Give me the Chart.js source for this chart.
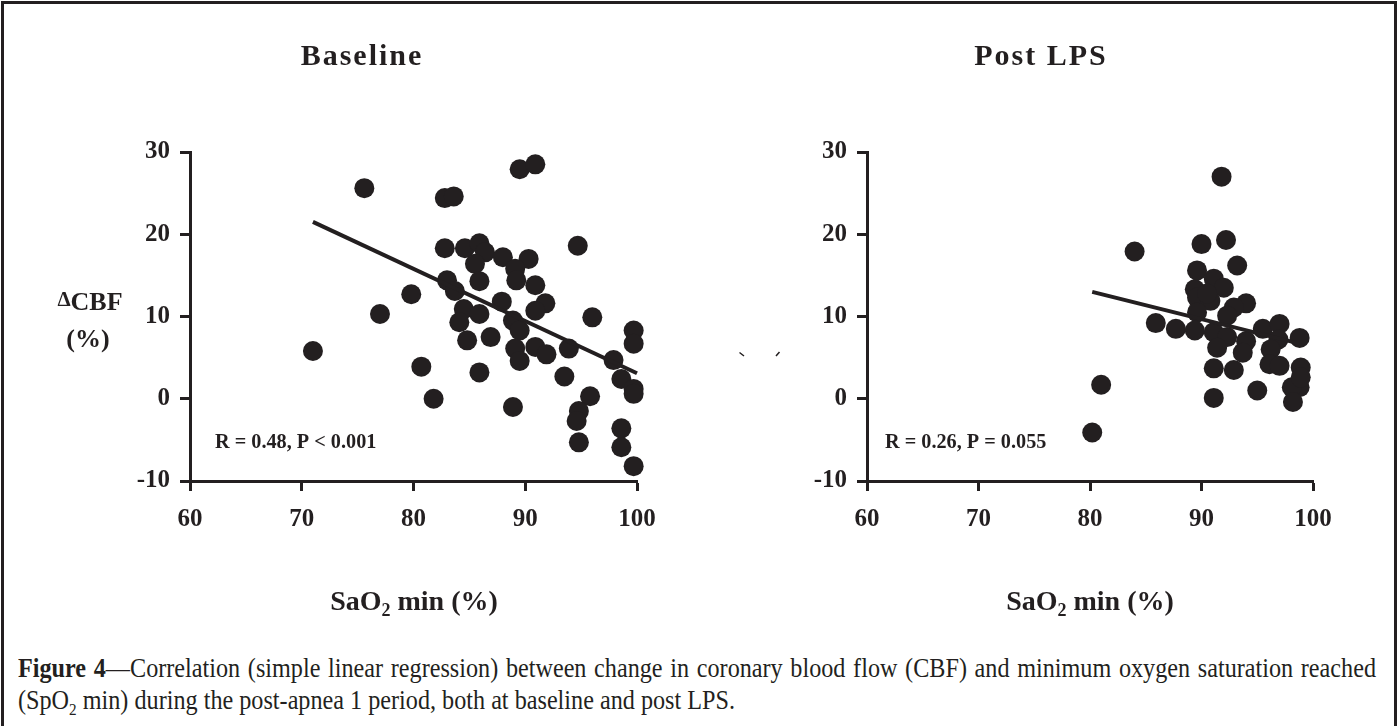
<!DOCTYPE html>
<html lang="en">
<head>
<meta charset="UTF-8">
<title>Figure 4</title>
<script src="https://cdn.jsdelivr.net/npm/chart.js@4.4.1/dist/chart.umd.min.js"></script>
<style>
  body { margin: 0; background: #fff; overflow: hidden; }
  #frame { position: absolute; left: 1px; top: 1px; width: 1396px; height: 740px; box-sizing: border-box; border: 3px solid #231f20; }
  canvas { position: absolute; top: 0; }
  #c1 { left: 0; }
  #c2 { left: 700px; }
  .cap { position: absolute; left: 18px; font-family: "Liberation Serif", serif; font-size: 27px; line-height: 27px; color: #231f20; transform-origin: 0 0; }
  #cap2 { white-space: nowrap; }
  #cap1 { text-align: justify; text-align-last: justify; }
</style>
</head>
<body>
<div id="frame"></div>
<canvas id="c1" width="700" height="640"></canvas>
<canvas id="c2" width="698" height="640"></canvas>
<div class="cap" id="cap1" style="top:655px"><b>Figure 4</b>—Correlation (simple linear regression) between change in coronary blood flow (CBF) and minimum oxygen saturation reached</div>
<div class="cap" id="cap2" style="top:687px">(SpO<sub style="font-size:17px;line-height:0">2</sub> min) during the post-apnea 1 period, both at baseline and post LPS.</div>
<script>
const INK = '#231f20';

// baseline: SaO2 min (%) vs delta CBF (%)
const baseX = [71.0, 75.6, 77.0, 79.8, 80.7, 81.8, 82.8, 83.6, 82.8, 83.0, 83.7, 84.6, 85.9, 86.4, 85.5, 88.0, 90.3, 89.5, 90.9, 94.7,
               89.1, 89.2, 90.9, 85.9, 87.9, 91.8, 90.9, 84.5, 85.9, 84.1, 88.9, 89.5, 96.0, 99.7, 84.8, 86.9, 89.1, 89.5, 90.9, 91.9,
               93.9, 99.7, 97.9, 98.6, 99.7, 99.7, 85.9, 93.5, 95.8, 94.8, 94.6, 94.8, 88.9, 98.6, 98.6, 99.7];
const baseY = [5.8, 25.6, 10.3, 12.7, 3.9, 0.0, 24.4, 24.6, 18.3, 14.4, 13.1, 18.3, 18.9, 17.8, 16.4, 17.2, 17.0, 27.9, 28.5, 18.6,
               15.8, 14.4, 13.8, 14.3, 11.8, 11.6, 10.7, 10.9, 10.3, 9.3, 9.5, 8.3, 9.9, 8.3, 7.1, 7.5, 6.1, 4.6, 6.3, 5.4,
               6.1, 6.7, 4.7, 2.4, 1.2, 0.6, 3.2, 2.7, 0.3, -1.5, -2.7, -5.3, -1.0, -3.6, -5.9, -8.2];
const baseFitX = [71.0, 100.0];
const baseFitY = [21.5, 3.1];

// post LPS
const lpsX = [91.8, 90.0, 92.2, 84.0, 93.2, 89.6, 91.1, 92.0, 89.4, 89.6, 90.8, 94.0, 92.9, 92.3, 89.6, 85.9, 87.7, 89.4, 91.1, 92.3,
              94.0, 95.5, 97.0, 98.8, 96.9, 96.2, 91.4, 93.7, 96.1, 97.0, 91.1, 92.9, 98.9, 98.8, 98.1, 98.2, 95.0, 91.1, 81.0, 80.2,
              90.5, 98.9];
const lpsY = [27.0, 18.8, 19.3, 17.9, 16.2, 15.6, 14.6, 13.5, 13.3, 12.3, 11.9, 11.6, 11.1, 10.1, 10.5, 9.2, 8.5, 8.3, 8.1, 7.5,
              7.0, 8.5, 9.1, 7.4, 7.2, 6.0, 6.2, 5.6, 4.2, 4.0, 3.7, 3.5, 3.8, 1.4, 1.4, -0.4, 1.0, 0.1, 1.7, -4.1,
              12.8, 2.6];
const lpsFitX = [80.2, 98.8];
const lpsFitY = [13.0, 6.7];

const xMin = 60, xMax = 100, yMin = -10, yMax = 30, step = 10;

function txt(ctx, s, x, y, font, align, sx, spacing) {
  ctx.save();
  ctx.font = font;
  ctx.fillStyle = INK;
  ctx.textAlign = align;
  ctx.textBaseline = 'middle';
  if (spacing) ctx.letterSpacing = spacing + 'px';
  ctx.translate(x, y);
  ctx.scale(sx, 1);
  ctx.fillText(s, 0, 0);
  ctx.restore();
}

const figText = {
  id: 'figText',
  afterDraw(chart, args, o) {
    const ctx = chart.ctx;
    txt(ctx, o.title, o.titleX, 57, 'bold 30px "Liberation Serif"', 'center', 1, 2);
    txt(ctx, o.stat, o.statX, 442, 'bold 22px "Liberation Serif"', 'left', 0.92, 0);

    // x axis title: SaO2 min (%)
    ctx.save();
    const f1 = 'bold 28px "Liberation Serif"', f2 = 'bold 18px "Liberation Serif"';
    ctx.font = f1;
    const w1 = ctx.measureText('SaO').width, w3 = ctx.measureText(' min (%)').width;
    ctx.font = f2;
    const w2 = ctx.measureText('2').width;
    let x = o.axisX - (w1 + w2 + w3) / 2;
    ctx.fillStyle = INK;
    ctx.textBaseline = 'alphabetic';
    ctx.font = f1; ctx.fillText('SaO', x, 610);
    ctx.font = f2; ctx.fillText('2', x + w1, 616);
    ctx.font = f1; ctx.fillText(' min (%)', x + w1 + w2, 610);
    ctx.restore();

    if (o.yLabel) {
      ctx.save();
      ctx.fillStyle = INK;
      ctx.textBaseline = 'alphabetic';
      ctx.font = 'bold 21px "Liberation Serif"';
      const wd = ctx.measureText('\u0394').width;
      ctx.font = 'bold 26px "Liberation Serif"';
      const wc = ctx.measureText('CBF').width;
      const x0 = 90 - (wd + wc) / 2;
      ctx.font = 'bold 21px "Liberation Serif"';
      ctx.fillText('\u0394', x0, 306);
      ctx.font = 'bold 26px "Liberation Serif"';
      ctx.fillText('CBF', x0 + wd, 310);
      ctx.textAlign = 'center';
      ctx.fillText('(%)', 88, 347);
      ctx.restore();
    }
    if (o.marks) {
      ctx.save();
      ctx.strokeStyle = INK;
      ctx.lineWidth = 1.5;
      ctx.beginPath();
      ctx.moveTo(39.5, 352.5); ctx.lineTo(44, 356);
      ctx.moveTo(79.5, 352); ctx.lineTo(76, 356);
      ctx.stroke();
      ctx.restore();
    }
  }
};

function makeChart(id, xs, ys, fitX, fitY, yAxisW, padRight, text) {
  const pts = xs.map((x, i) => ({ x: x, y: ys[i] }));
  const fit = fitX.map((x, i) => ({ x: x, y: fitY[i] }));
  const tickFont = { family: '"Liberation Serif"', size: 25, weight: 'bold' };
  const axis = (pad) => ({
    type: 'linear',
    ticks: { stepSize: step, font: tickFont, color: INK, padding: pad },
    grid: { drawOnChartArea: false, tickLength: 10, tickWidth: 3, tickColor: INK },
    border: { display: true, width: 3, color: INK }
  });
  const xs_ = Object.assign(axis(14), { min: xMin, max: xMax, afterFit: s => { s.height = 159; } });
  const ys_ = Object.assign(axis(10), { min: yMin, max: yMax, afterFit: s => { s.width = yAxisW; } });
  return new Chart(document.getElementById(id), {
    type: 'scatter',
    data: {
      datasets: [
        { data: fit, showLine: true, borderColor: INK, borderWidth: 4, pointRadius: 0, clip: false },
        { data: pts, backgroundColor: INK, borderWidth: 0, pointRadius: 10, pointHoverRadius: 10, clip: false }
      ]
    },
    options: {
      responsive: false,
      animation: false,
      events: [],
      layout: { padding: { top: 152, right: padRight, left: 0, bottom: 0 }, autoPadding: false },
      plugins: { legend: { display: false }, tooltip: { enabled: false }, figText: text },
      scales: { x: xs_, y: ys_ }
    },
    plugins: [figText]
  });
}

makeChart('c1', baseX, baseY, baseFitX, baseFitY, 190, 63,
  { title: 'Baseline', titleX: 362, stat: 'R = 0.48, P < 0.001', statX: 215, axisX: 414, yLabel: true });
makeChart('c2', lpsX, lpsY, lpsFitX, lpsFitY, 167, 85,
  { title: 'Post LPS', titleX: 341, stat: 'R = 0.26, P = 0.055', statX: 185, axisX: 390, marks: true });

// caption: condensed serif, first line justified
const c1 = document.getElementById('cap1'), c2 = document.getElementById('cap2');
const sx = 717 / c2.getBoundingClientRect().width;
c2.style.transform = 'scaleX(' + sx + ')';
c1.style.width = (1358 / sx) + 'px';
c1.style.transform = 'scaleX(' + sx + ')';
</script>
</body>
</html>
